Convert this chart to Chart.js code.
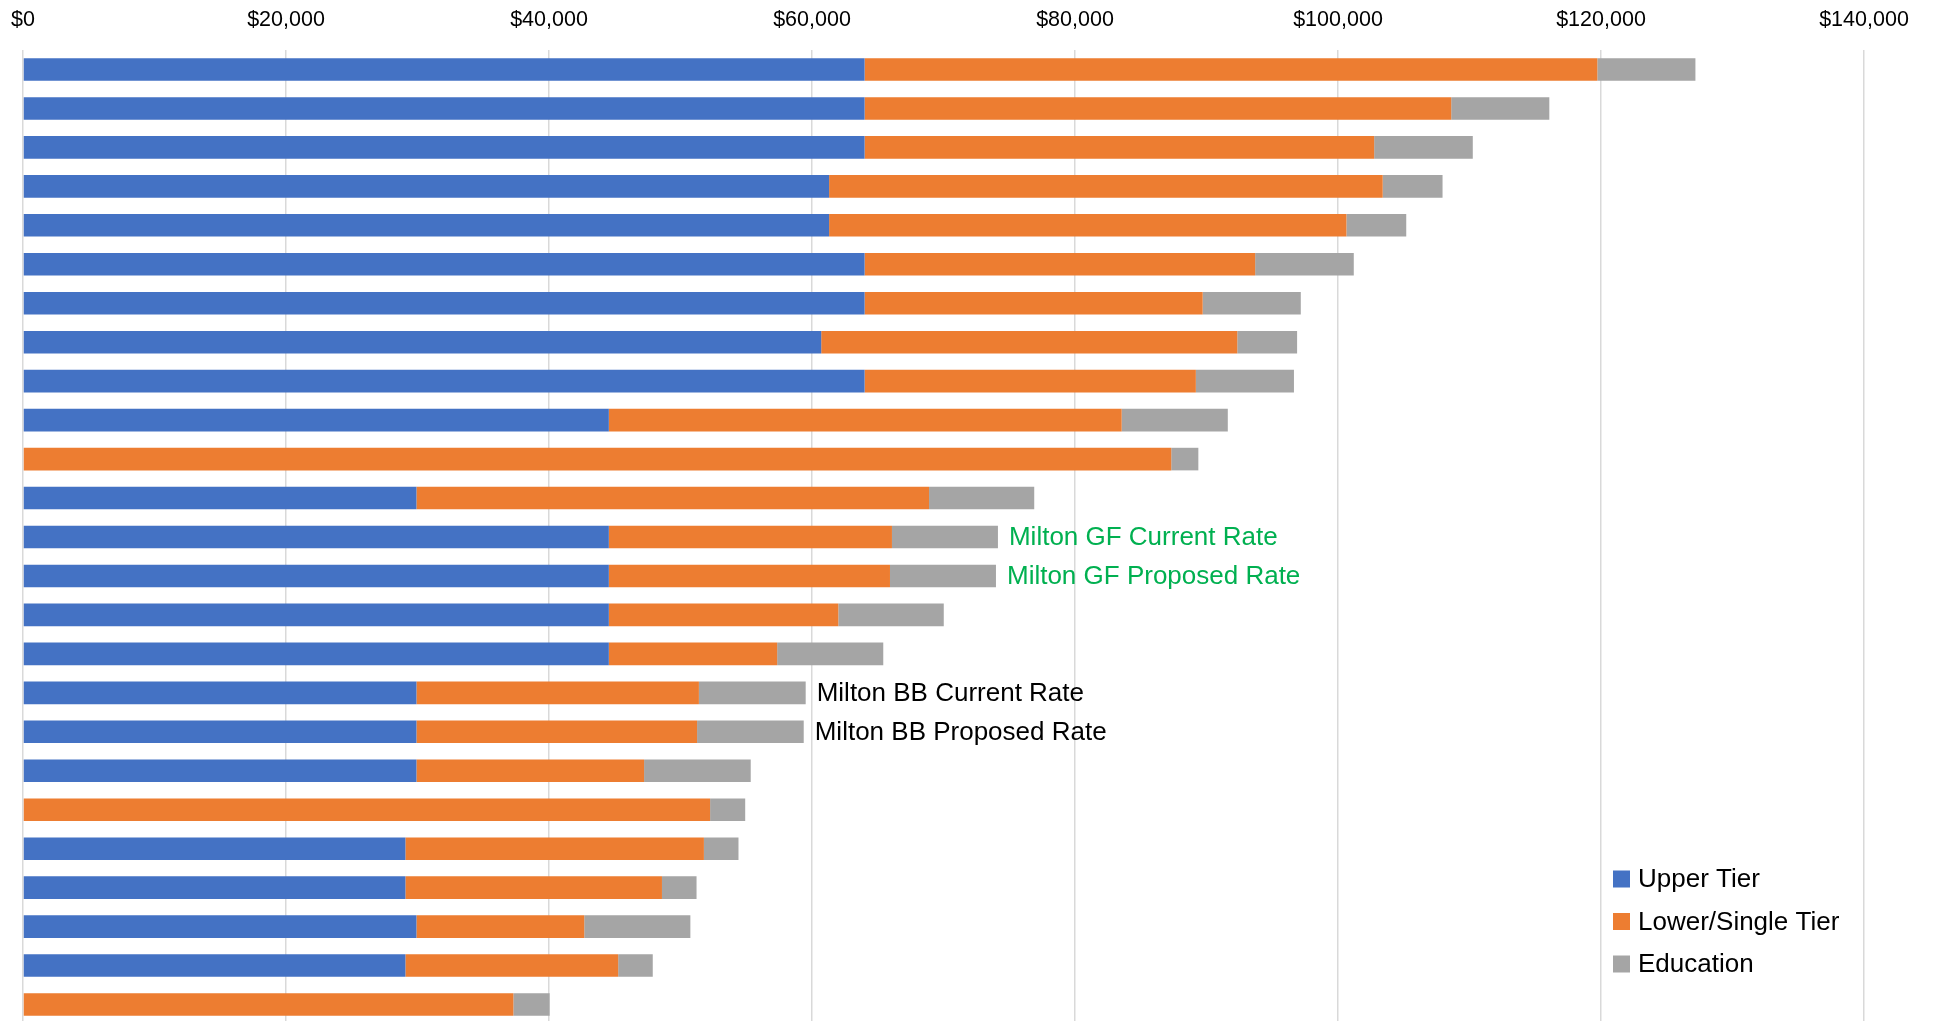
<!DOCTYPE html>
<html>
<head>
<meta charset="utf-8">
<script src="https://cdn.jsdelivr.net/npm/chart.js@4.4.1/dist/chart.umd.min.js"></script>
<style>
  html, body { margin: 0; padding: 0; background: #fff; overflow: hidden; }
  #wrap { width: 1934px; height: 1024px; position: relative; }
</style>
</head>
<body>
<div id="wrap"><canvas id="myChart"></canvas></div>
<script>
// rows top to bottom
var categories = [
  "Comparator 1", "Comparator 2", "Comparator 3", "Comparator 4", "Comparator 5",
  "Comparator 6", "Comparator 7", "Comparator 8", "Comparator 9", "Comparator 10",
  "Comparator 11", "Comparator 12", "Milton GF Current Rate", "Milton GF Proposed Rate",
  "Comparator 15", "Comparator 16", "Milton BB Current Rate", "Milton BB Proposed Rate",
  "Comparator 19", "Comparator 20", "Comparator 21", "Comparator 22", "Comparator 23",
  "Comparator 24", "Comparator 25"
];
var upperTier = [64000, 64000, 64000, 61300, 61300, 64000, 64000, 60700, 64000, 44550,
  0, 29920, 44550, 44550, 44550, 44550, 29920, 29920, 29920, 0, 29080, 29080, 29920, 29080, 0];
var lowerTier = [55720, 44610, 38750, 42100, 39340, 29700, 25710, 31640, 25190, 39000,
  87320, 38980, 21530, 21380, 17450, 12800, 21480, 21340, 17310, 52250, 22700, 19510, 12760, 16180, 37290];
var education = [7460, 7460, 7500, 4550, 4550, 7500, 7460, 4550, 7460, 8070,
  2060, 8000, 8060, 8060, 8020, 8070, 8120, 8110, 8110, 2670, 2630, 2630, 8070, 2630, 2760];
var callouts = ["", "", "", "", "", "", "", "", "", "", "", "",
  "Milton GF Current Rate", "Milton GF Proposed Rate", "", "",
  "Milton BB Current Rate", "Milton BB Proposed Rate", "", "", "", "", "", "", ""];
var xTicks = [0, 20000, 40000, 60000, 80000, 100000, 120000, 140000];
var seriesNames = ["Upper Tier", "Lower/Single Tier", "Education"];

var FONT = "'Liberation Sans', Arial, sans-serif";

// text next to the end of the stacked bar
var calloutPlugin = {
  id: "callouts",
  afterDatasetsDraw: function (chart) {
    var ctx = chart.ctx;
    var meta = chart.getDatasetMeta(2);
    ctx.save();
    ctx.font = "26px " + FONT;
    ctx.textBaseline = "middle";
    ctx.textAlign = "left";
    callouts.forEach(function (txt, i) {
      if (!txt) return;
      var el = meta.data[i];
      ctx.fillStyle = txt.indexOf("GF") >= 0 ? "#00B050" : "#000000";
      ctx.fillText(txt, el.x + 11, el.y + 1);
    });
    ctx.restore();
  }
};

// legend sitting inside the plot, bottom right
var insideLegend = {
  id: "insideLegend",
  afterDraw: function (chart) {
    var ctx = chart.ctx;
    var area = chart.chartArea;
    ctx.save();
    ctx.font = "26px " + FONT;
    ctx.textBaseline = "middle";
    chart.data.datasets.forEach(function (ds, i) {
      var y = area.bottom - 145 + i * 42.5;
      var x = area.right - 251;
      ctx.fillStyle = ds.backgroundColor;
      ctx.fillRect(x, y - 8.5, 17, 17);
      ctx.fillStyle = "#000000";
      ctx.fillText(ds.label, x + 25, y + 1);
    });
    ctx.restore();
  }
};

var ctx = document.getElementById("myChart").getContext("2d");
var chart = new Chart(ctx, {
  type: "bar",
  data: {
    labels: categories,
    datasets: [{
      label: seriesNames[0],
      data: upperTier,
      backgroundColor: "#4472C4"
    }, {
      label: seriesNames[1],
      data: lowerTier,
      backgroundColor: "#ED7D31"
    }, {
      label: seriesNames[2],
      data: education,
      backgroundColor: "#A5A5A5"
    }]
  },
  options: {
    indexAxis: "y",
    responsive: true,
    maintainAspectRatio: false,
    animation: false,
    datasets: {
      bar: { categoryPercentage: 1, barPercentage: 0.58, borderWidth: 0 }
    },
    layout: { padding: { left: 23, right: 70, top: 0, bottom: 0 } },
    plugins: {
      legend: { display: false },
      tooltip: { enabled: false }
    },
    scales: {
      x: {
        position: "top",
        stacked: true,
        min: 0,
        max: 140000,
        afterBuildTicks: function (scale) {
          scale.ticks = xTicks.map(function (v) { return { value: v }; });
        },
        afterFit: function (scale) { scale.height = 50; },
        grid: { color: "#D9D9D9", lineWidth: 1.5, drawTicks: false },
        border: { display: false },
        ticks: {
          padding: 0,
          color: "#000000",
          // tall line box puts the label centre ~20px from the top
          font: { family: FONT, size: 21.5, lineHeight: "60px" },
          callback: function (v) { return "$" + Number(v).toLocaleString("en-US"); }
        }
      },
      y: {
        stacked: true,
        display: false
      }
    }
  },
  plugins: [calloutPlugin, insideLegend]
});
</script>
</body>
</html>
